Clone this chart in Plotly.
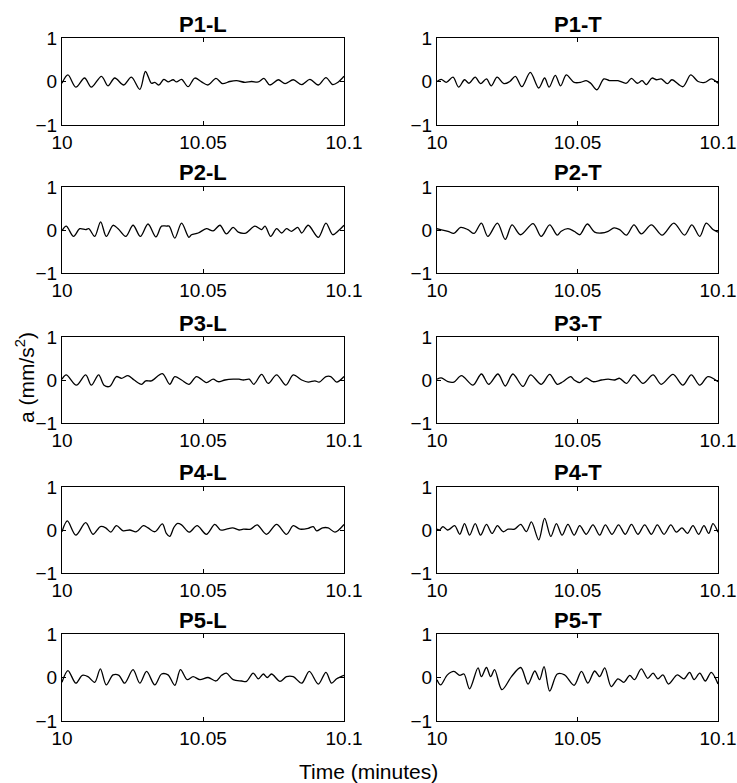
import plotly.graph_objects as go
from plotly.subplots import make_subplots

# Acceleration records (minutes, mm/s^2) for each measurement point,
# L = longitudinal, T = transverse.
panel_titles = ["P1-L", "P1-T", "P2-L", "P2-T", "P3-L", "P3-T", "P4-L", "P4-T", "P5-L", "P5-T"]

t_p1l = [0.0000, 0.0021, 0.0049, 0.0080, 0.0104, 0.0140, 0.0163, 0.0187, 0.0219, 0.0246,
         0.0276, 0.0296, 0.0317, 0.0329, 0.0344, 0.0361, 0.0376, 0.0394, 0.0406, 0.0424,
         0.0447, 0.0471, 0.0495, 0.0518, 0.0546, 0.0569, 0.0595, 0.0619, 0.0649, 0.0672,
         0.0696, 0.0716, 0.0737, 0.0767, 0.0791, 0.0820, 0.0850, 0.0879, 0.0909, 0.0936,
         0.0960, 0.0980, 0.1000]
a_p1l = [-0.04, 0.15, -0.13, 0.08, -0.13, 0.12, -0.10, 0.08, -0.08, 0.10,
         -0.18, 0.23, -0.04, -0.02, -0.08, 0.05, -0.01, 0.04, -0.01, 0.05,
         -0.12, 0.08, -0.01, -0.08, 0.07, -0.05, 0.00, 0.02, -0.02, 0.00,
         -0.01, 0.07, -0.08, 0.04, -0.05, 0.04, -0.07, 0.05, -0.08, 0.09,
         -0.07, -0.01, 0.12]

t_p1t = [0.0000, 0.0015, 0.0033, 0.0057, 0.0077, 0.0098, 0.0114, 0.0136, 0.0155, 0.0176,
         0.0193, 0.0214, 0.0238, 0.0259, 0.0279, 0.0302, 0.0332, 0.0362, 0.0383, 0.0399,
         0.0421, 0.0440, 0.0460, 0.0488, 0.0511, 0.0531, 0.0547, 0.0569, 0.0594, 0.0614,
         0.0644, 0.0674, 0.0692, 0.0713, 0.0730, 0.0745, 0.0765, 0.0781, 0.0798, 0.0820,
         0.0836, 0.0875, 0.0903, 0.0929, 0.0953, 0.0976, 0.1000]
a_p1t = [0.00, 0.05, -0.02, 0.10, -0.13, 0.04, -0.04, 0.10, -0.05, 0.06,
         -0.10, 0.10, -0.05, 0.00, 0.12, -0.12, 0.21, -0.15, 0.08, -0.13,
         0.14, -0.10, 0.15, -0.02, -0.02, 0.02, -0.04, -0.19, 0.06, 0.02,
         0.02, -0.04, 0.07, -0.04, 0.02, -0.07, 0.08, 0.04, 0.06, -0.05,
         0.04, -0.12, 0.15, 0.00, -0.02, 0.06, -0.04]

t_p2l = [0.0000, 0.0015, 0.0041, 0.0063, 0.0084, 0.0095, 0.0116, 0.0137, 0.0157, 0.0181,
         0.0199, 0.0226, 0.0252, 0.0278, 0.0305, 0.0333, 0.0353, 0.0370, 0.0380, 0.0400,
         0.0424, 0.0450, 0.0459, 0.0483, 0.0512, 0.0536, 0.0560, 0.0583, 0.0607, 0.0625,
         0.0652, 0.0684, 0.0708, 0.0720, 0.0740, 0.0761, 0.0779, 0.0796, 0.0814, 0.0836,
         0.0850, 0.0873, 0.0909, 0.0936, 0.0960, 0.0980, 0.1000]
a_p2l = [-0.02, 0.09, -0.15, 0.03, 0.01, 0.03, -0.15, 0.19, -0.15, 0.11,
         0.03, -0.15, 0.11, -0.15, 0.14, -0.16, 0.09, 0.09, 0.09, -0.19,
         0.16, -0.17, -0.11, -0.07, 0.03, -0.02, 0.11, -0.09, 0.06, -0.05,
         -0.07, 0.09, 0.01, 0.09, -0.15, 0.03, -0.07, 0.03, -0.03, 0.06,
         -0.07, 0.11, -0.17, 0.16, -0.11, -0.02, 0.11]

t_p2t = [0.0000, 0.0013, 0.0039, 0.0060, 0.0084, 0.0110, 0.0132, 0.0158, 0.0181, 0.0215,
         0.0243, 0.0267, 0.0297, 0.0342, 0.0371, 0.0401, 0.0428, 0.0442, 0.0466, 0.0488,
         0.0508, 0.0535, 0.0561, 0.0585, 0.0609, 0.0630, 0.0650, 0.0674, 0.0701, 0.0727,
         0.0763, 0.0801, 0.0843, 0.0881, 0.0907, 0.0935, 0.0958, 0.0982, 0.1000]
a_p2t = [0.03, 0.01, -0.03, -0.08, 0.06, 0.01, -0.08, 0.16, -0.15, 0.16,
         -0.22, 0.12, -0.11, 0.15, -0.15, 0.12, -0.12, -0.03, 0.03, -0.03,
         -0.11, 0.14, -0.05, -0.07, -0.03, 0.05, 0.01, -0.12, 0.12, -0.09,
         0.12, -0.12, 0.16, -0.12, 0.12, -0.15, 0.16, 0.01, -0.05]

t_p3l = [0.0000, 0.0015, 0.0051, 0.0084, 0.0104, 0.0130, 0.0149, 0.0169, 0.0193, 0.0211,
         0.0234, 0.0256, 0.0282, 0.0297, 0.0317, 0.0356, 0.0382, 0.0400, 0.0424, 0.0450,
         0.0477, 0.0512, 0.0536, 0.0554, 0.0578, 0.0607, 0.0628, 0.0643, 0.0664, 0.0680,
         0.0708, 0.0731, 0.0761, 0.0794, 0.0820, 0.0850, 0.0873, 0.0897, 0.0912, 0.0936,
         0.0953, 0.0974, 0.1000]
a_p3l = [0.02, 0.12, -0.12, 0.12, -0.12, 0.12, -0.12, -0.15, 0.08, 0.04,
         0.10, 0.00, -0.10, -0.02, -0.02, 0.15, -0.10, 0.08, 0.00, -0.10,
         0.08, -0.06, 0.02, -0.04, 0.00, 0.02, 0.02, 0.00, 0.02, -0.10,
         0.13, -0.08, 0.12, -0.12, 0.12, 0.00, -0.05, -0.02, -0.05, 0.08,
         0.08, -0.05, 0.08]

t_p3t = [0.0000, 0.0015, 0.0039, 0.0060, 0.0087, 0.0128, 0.0158, 0.0184, 0.0217, 0.0243,
         0.0270, 0.0306, 0.0333, 0.0371, 0.0401, 0.0428, 0.0448, 0.0476, 0.0488, 0.0508,
         0.0531, 0.0555, 0.0585, 0.0609, 0.0632, 0.0650, 0.0674, 0.0701, 0.0733, 0.0769,
         0.0798, 0.0840, 0.0875, 0.0905, 0.0935, 0.0964, 0.1000]
a_p3t = [0.02, 0.05, -0.04, -0.05, 0.10, -0.12, 0.14, -0.10, 0.14, -0.14,
         0.14, -0.15, 0.12, -0.10, 0.13, -0.10, -0.04, 0.08, 0.00, -0.06,
         0.05, -0.04, 0.00, 0.02, 0.00, 0.04, -0.08, 0.12, -0.08, 0.12,
         -0.10, 0.13, -0.12, 0.12, -0.12, 0.08, -0.04]

t_p4l = [0.0000, 0.0019, 0.0049, 0.0084, 0.0110, 0.0136, 0.0155, 0.0173, 0.0193, 0.0217,
         0.0240, 0.0264, 0.0288, 0.0305, 0.0329, 0.0356, 0.0370, 0.0382, 0.0396, 0.0408,
         0.0424, 0.0451, 0.0479, 0.0512, 0.0542, 0.0562, 0.0583, 0.0605, 0.0628, 0.0643,
         0.0669, 0.0692, 0.0725, 0.0761, 0.0796, 0.0820, 0.0844, 0.0873, 0.0891, 0.0903,
         0.0924, 0.0944, 0.0968, 0.1000]
a_p4l = [-0.04, 0.21, -0.12, 0.17, -0.10, 0.08, 0.05, -0.05, 0.10, -0.02,
         0.00, -0.04, 0.10, 0.05, -0.04, 0.14, -0.08, -0.15, 0.05, 0.15,
         0.12, -0.05, 0.10, -0.10, 0.13, 0.00, 0.02, 0.05, 0.00, 0.02,
         0.02, 0.12, -0.10, 0.13, -0.10, 0.10, 0.02, 0.04, 0.08, -0.02,
         0.05, 0.05, -0.05, 0.13]

t_p4t = [0.0000, 0.0009, 0.0021, 0.0037, 0.0045, 0.0063, 0.0081, 0.0098, 0.0116, 0.0136,
         0.0155, 0.0176, 0.0196, 0.0215, 0.0235, 0.0253, 0.0276, 0.0298, 0.0318, 0.0336,
         0.0362, 0.0383, 0.0405, 0.0425, 0.0445, 0.0466, 0.0488, 0.0508, 0.0531, 0.0555,
         0.0579, 0.0599, 0.0623, 0.0646, 0.0670, 0.0692, 0.0715, 0.0739, 0.0763, 0.0784,
         0.0808, 0.0832, 0.0852, 0.0872, 0.0891, 0.0911, 0.0931, 0.0950, 0.0967, 0.0982,
         0.1000]
a_p4t = [0.02, 0.00, 0.08, 0.00, 0.02, 0.10, -0.10, 0.15, -0.12, 0.15,
         -0.12, 0.13, -0.08, 0.10, -0.04, 0.02, 0.02, 0.13, -0.04, 0.19,
         -0.23, 0.27, -0.15, 0.15, -0.12, 0.13, -0.12, 0.10, -0.10, 0.12,
         -0.12, 0.12, -0.10, 0.12, -0.10, 0.13, -0.10, 0.12, -0.10, 0.12,
         -0.10, 0.12, -0.05, 0.05, -0.08, 0.10, -0.10, 0.10, -0.08, 0.15,
         -0.05]

t_p5l = [0.0000, 0.0021, 0.0049, 0.0072, 0.0092, 0.0116, 0.0136, 0.0157, 0.0181, 0.0202,
         0.0222, 0.0252, 0.0276, 0.0300, 0.0329, 0.0353, 0.0376, 0.0400, 0.0420, 0.0444,
         0.0465, 0.0489, 0.0518, 0.0546, 0.0566, 0.0583, 0.0607, 0.0637, 0.0654, 0.0678,
         0.0696, 0.0714, 0.0728, 0.0743, 0.0773, 0.0796, 0.0820, 0.0850, 0.0877, 0.0909,
         0.0936, 0.0956, 0.0974, 0.1000]
a_p5l = [-0.11, 0.16, -0.13, 0.05, 0.02, -0.11, 0.20, -0.17, 0.06, 0.05,
         -0.13, 0.18, -0.13, 0.14, -0.17, 0.08, 0.06, -0.18, 0.18, -0.05,
         0.02, -0.05, 0.00, -0.08, 0.05, 0.10, -0.05, -0.08, -0.09, 0.10,
         -0.03, 0.08, 0.00, 0.08, -0.09, 0.02, 0.02, -0.13, 0.14, -0.15,
         0.12, -0.13, -0.03, 0.05]

t_p5t = [0.0000, 0.0013, 0.0037, 0.0060, 0.0081, 0.0096, 0.0116, 0.0146, 0.0158, 0.0176,
         0.0191, 0.0205, 0.0231, 0.0265, 0.0298, 0.0324, 0.0348, 0.0365, 0.0381, 0.0401,
         0.0428, 0.0454, 0.0488, 0.0514, 0.0537, 0.0561, 0.0579, 0.0597, 0.0620, 0.0644,
         0.0665, 0.0686, 0.0703, 0.0727, 0.0750, 0.0769, 0.0786, 0.0804, 0.0824, 0.0855,
         0.0879, 0.0899, 0.0915, 0.0935, 0.0955, 0.0976, 0.1000]
a_p5t = [-0.05, -0.17, 0.06, 0.14, 0.05, 0.08, -0.26, 0.22, 0.02, 0.23,
         0.02, 0.18, -0.28, 0.02, 0.23, -0.15, 0.15, -0.05, 0.25, -0.31,
         0.08, 0.06, -0.18, 0.14, -0.13, 0.15, 0.02, 0.22, -0.21, -0.03,
         -0.11, 0.05, -0.05, 0.20, -0.02, 0.10, -0.03, 0.06, -0.15, 0.06,
         -0.03, 0.12, -0.05, 0.10, -0.08, 0.12, -0.15]

series = [(t_p1l, a_p1l), (t_p1t, a_p1t), (t_p2l, a_p2l), (t_p2t, a_p2t),
          (t_p3l, a_p3l), (t_p3t, a_p3t), (t_p4l, a_p4l), (t_p4t, a_p4t),
          (t_p5l, a_p5l), (t_p5t, a_p5t)]

t_start = 10.0
x_ticks = [10, 10.05, 10.1]
x_ticktext = ["10", "10.05", "10.1"]
y_ticks = [-1, 0, 1]

W, H = 737, 783
FONT = "Liberation Sans, Arial, Helvetica, sans-serif"

# panel frames in pixels (left, right) per column and (top, bottom) per row
col_px = [(62, 344), (437, 718)]
row_px = [(38, 125), (187, 273), (337, 423), (487, 573), (634, 721)]

fig = make_subplots(rows=5, cols=2)

for i, (t_off, acc) in enumerate(series):
    r, c = divmod(i, 2)
    fig.add_trace(
        go.Scatter(
            x=[t_start + v for v in t_off], y=acc, mode="lines",
            line=dict(color="black", width=1.3, shape="spline", smoothing=0.9),
            showlegend=False, hoverinfo="skip", cliponaxis=True,
        ),
        row=r + 1, col=c + 1,
    )
    x0, x1 = col_px[c]
    y0, y1 = row_px[r]
    xd = [x0 / W, x1 / W]
    yd = [1 - y1 / H, 1 - y0 / H]
    fig.update_xaxes(
        domain=xd, range=[10, 10.1], tickmode="array", tickvals=x_ticks,
        ticktext=x_ticktext, ticks="inside", ticklen=4, tickcolor="black",
        showline=True, linecolor="black", linewidth=1, mirror="ticks",
        showgrid=False, zeroline=False, automargin=False,
        tickfont=dict(family=FONT, size=19, color="black"),
        row=r + 1, col=c + 1,
    )
    fig.update_yaxes(
        domain=yd, range=[-1, 1], tickmode="array", tickvals=y_ticks,
        ticks="inside", ticklen=4, tickcolor="black",
        showline=True, linecolor="black", linewidth=1, mirror="ticks",
        showgrid=False, zeroline=False, automargin=False,
        tickfont=dict(family=FONT, size=19, color="black"),
        row=r + 1, col=c + 1,
    )
    fig.add_annotation(
        text="<b>%s</b>" % panel_titles[i], xref="paper", yref="paper",
        x=(x0 + x1) / 2 / W, y=1 - (y0 - 14) / H, xanchor="center", yanchor="middle",
        showarrow=False, font=dict(family=FONT, size=22, color="black"),
    )

fig.add_annotation(
    text="Time (minutes)", xref="paper", yref="paper",
    x=368 / W, y=1 - 771 / H, xanchor="center", yanchor="middle",
    showarrow=False, font=dict(family=FONT, size=21, color="black"),
)
fig.add_annotation(
    text="a (mm/s<sup>2</sup>)", xref="paper", yref="paper",
    x=25 / W, y=1 - 378 / H, xanchor="center", yanchor="middle", textangle=-90,
    showarrow=False, font=dict(family=FONT, size=21, color="black"),
)

fig.update_layout(
    width=W, height=H, margin=dict(l=0, r=0, t=0, b=0, autoexpand=False),
    paper_bgcolor="white", plot_bgcolor="white",
)

fig.write_html("out.html")
